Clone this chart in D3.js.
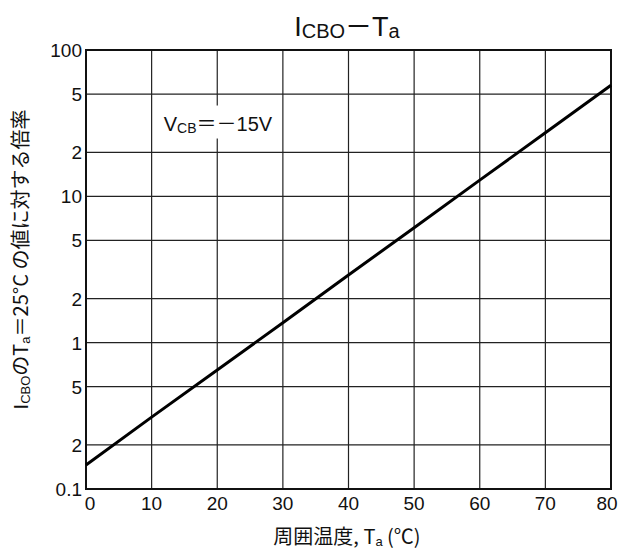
<!DOCTYPE html>
<html>
<head>
<meta charset="utf-8">
<script src="https://cdn.jsdelivr.net/npm/d3@7"></script>
<style>
  body { margin: 0; background: #fff; }
  text { font-family: "Liberation Sans", "Noto Sans CJK JP", sans-serif; fill: #111; }
  .jp { font-family: "Noto Sans CJK JP", sans-serif; }
</style>
</head>
<body>
<div id="canva"></div>
<script>
// temperature (°C) and ratio vs. value at Ta = 25°C
const temps = [0, 10, 20, 30, 40, 50, 60, 70, 80];
const ratios = [0.146, 0.31, 0.65, 1.37, 2.9, 6.1, 12.9, 27.2, 57.5];

const xTicks = [0, 10, 20, 30, 40, 50, 60, 70, 80];
const yTicks = [0.1, 0.2, 0.5, 1, 2, 5, 10, 20, 50, 100];
const yTickLabels = ["0.1", "2", "5", "1", "2", "5", "10", "2", "5", "100"];

const width = 625, height = 553;
const margin = { top: 50, right: 14, bottom: 64, left: 86 };
const iwidth = width - margin.left - margin.right;
const iheight = height - margin.top - margin.bottom;

const svg = d3.select("#canva").append("svg")
  .attr("width", width)
  .attr("height", height);

const g = svg.append("g")
  .attr("transform", `translate(${margin.left},${margin.top})`);

const x = d3.scaleLinear().domain([0, 80]).range([0, iwidth]);
const y = d3.scaleLog().domain([0.1, 100]).range([iheight, 0]);

// grid
g.append("g").selectAll("line").data(xTicks).enter().append("line")
  .attr("x1", (d) => x(d)).attr("x2", (d) => x(d))
  .attr("y1", 0).attr("y2", iheight)
  .attr("stroke", "#222").attr("stroke-width", 1.2);

g.append("g").selectAll("line").data(yTicks).enter().append("line")
  .attr("x1", 0).attr("x2", iwidth)
  .attr("y1", (d) => y(d)).attr("y2", (d) => y(d))
  .attr("stroke", "#222").attr("stroke-width", 1.2);

// frame
g.append("rect")
  .attr("width", iwidth).attr("height", iheight)
  .attr("fill", "none").attr("stroke", "#111").attr("stroke-width", 2);

// tick labels
g.append("g").selectAll("text").data(yTicks).enter().append("text")
  .attr("x", -4).attr("y", (d) => y(d) + 7)
  .attr("text-anchor", "end")
  .style("font-size", "19px")
  .text((d, i) => yTickLabels[i]);

g.append("g").selectAll("text").data(xTicks).enter().append("text")
  .attr("x", (d, i) => x(d) + (i === 0 ? 4 : i === xTicks.length - 1 ? -4 : 0))
  .attr("y", iheight + 21)
  .attr("text-anchor", "middle")
  .style("font-size", "19px")
  .text((d) => d);

// annotation with white box over the grid
const note = g.append("g").attr("transform", `translate(${x(12) - 1},${y(30) + 4})`);
const noteBg = note.append("rect").attr("fill", "#fff");
const nt = note.append("text").style("font-size", "20px");
nt.append("tspan").text("V");
nt.append("tspan").style("font-size", "14px").attr("dy", 2).text("CB");
nt.append("tspan").attr("dy", -2).attr("class", "jp").text("＝－");
nt.append("tspan").text("15V");
const bb = nt.node().getBBox();
noteBg.attr("x", bb.x - 4).attr("y", bb.y - 2).attr("width", bb.width + 8).attr("height", bb.height + 4);

// data line
const line = d3.line()
  .x((d, i) => x(temps[i]))
  .y((d) => y(d));

g.append("path")
  .datum(ratios)
  .attr("d", line)
  .attr("fill", "none")
  .attr("stroke", "#000")
  .attr("stroke-width", 3);

// title
const title = svg.append("text")
  .attr("x", 347).attr("y", 36)
  .attr("text-anchor", "middle")
  .style("font-size", "27px");
title.append("tspan").text("I");
title.append("tspan").style("font-size", "20px").attr("dy", 2).text("CBO");
title.append("tspan").attr("dy", -2).attr("class", "jp").text("－");
title.append("tspan").text("T");
title.append("tspan").style("font-size", "20px").attr("dy", 2).text("a");

// x axis label
const xl = svg.append("text")
  .attr("x", 347).attr("y", 544)
  .attr("text-anchor", "middle")
  .style("font-size", "20px");
xl.append("tspan").attr("class", "jp").text("周囲温度, T");
xl.append("tspan").style("font-size", "13px").attr("dy", 2).text("a");
xl.append("tspan").attr("dy", -2).attr("class", "jp").text(" (℃)");

// y axis label
const yl = svg.append("text")
  .attr("transform", `translate(28,${margin.top + iheight / 2 - 10}) rotate(-90)`)
  .attr("text-anchor", "middle")
  .style("font-size", "20px");
yl.append("tspan").text("I");
yl.append("tspan").style("font-size", "13px").attr("dy", 2).text("CBO");
yl.append("tspan").attr("dy", -2).attr("class", "jp").text("のT");
yl.append("tspan").style("font-size", "13px").attr("dy", 2).text("a");
yl.append("tspan").attr("dy", -2).attr("class", "jp").text("＝25°C の値に対する倍率");
</script>
</body>
</html>
